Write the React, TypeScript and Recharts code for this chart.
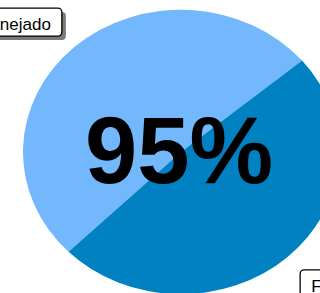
import React from 'react';
import { PieChart, Pie, Cell, Sector, Label } from 'recharts';

const names = ['Planejado', 'Feito'];
const values = [100, 95];
const COLORS = ['#73b8fd', '#0081c2'];

const RADIAN = Math.PI / 180;
const SQUASH = 0.9; // pie is drawn slightly flattened, like the reference
const LABEL_FONT = '17px Arial, "Liberation Sans", sans-serif';

const data = names.map((name, i) => ({ name, value: values[i] }));
const pct = `${Math.round((values[1] / values[0]) * 100)}%`;

let ctx: CanvasRenderingContext2D | null = null;
const measure = (text: string) => {
  if (!ctx) ctx = document.createElement('canvas').getContext('2d');
  if (!ctx) return text.length * 8;
  ctx.font = LABEL_FONT;
  return ctx.measureText(text).width;
};

const FlatSector = (props: any) => {
  const { cy } = props;
  return (
    <g transform={`translate(0 ${cy * (1 - SQUASH)}) scale(1 ${SQUASH})`}>
      <Sector {...props} />
    </g>
  );
};

const BoxLabel = (props: any) => {
  const { cx, cy, midAngle, name } = props;
  const r = 177;
  const x = cx + r * Math.cos(-midAngle * RADIAN);
  const y = cy + r * Math.sin(-midAngle * RADIAN);
  const pad = 11;
  const w = measure(name) + pad * 2;
  const h = 28;
  const left = Math.cos(-midAngle * RADIAN) < 0 ? x - w : x;
  const top = y - h / 2 + 1;
  return (
    <g>
      <rect x={left + 4} y={top + 4} width={w} height={h} rx={4} fill="#7a7a7a" />
      <rect x={left} y={top} width={w} height={h} rx={4} fill="#fff" stroke="#000" strokeWidth={1.3} />
      <text x={left + pad} y={top + 22} fill="#000" style={{ font: LABEL_FONT }}>
        {name}
      </text>
    </g>
  );
};

export default function App() {
  return (
    <div style={{ position: 'absolute', left: 0, top: 0, width: 320, height: 293, overflow: 'hidden', background: '#fff' }}>
      <PieChart width={320} height={293} margin={{ top: 0, right: 0, bottom: 0, left: 0 }}>
        <Pie
          data={data}
          dataKey="value"
          nameKey="name"
          cx={181}
          cy={152}
          outerRadius={158}
          startAngle={40}
          endAngle={400}
          stroke="none"
          labelLine={false}
          label={BoxLabel}
          shape={FlatSector}
          isAnimationActive={false}
        >
          {data.map((entry, index) => (
            <Cell key={`cell-${index}`} fill={COLORS[index % COLORS.length]} />
          ))}
          <Label
            position="center"
            content={(p: any) => {
              const vb = p.viewBox || {};
              return (
                <text
                  x={(vb.cx ?? 181) - 2}
                  y={(vb.cy ?? 152) + 31}
                  textAnchor="middle"
                  fill="#000"
                  style={{ font: 'bold 94px Arial, "Liberation Sans", sans-serif' }}
                >
                  {pct}
                </text>
              );
            }}
          />
        </Pie>
      </PieChart>
    </div>
  );
}
